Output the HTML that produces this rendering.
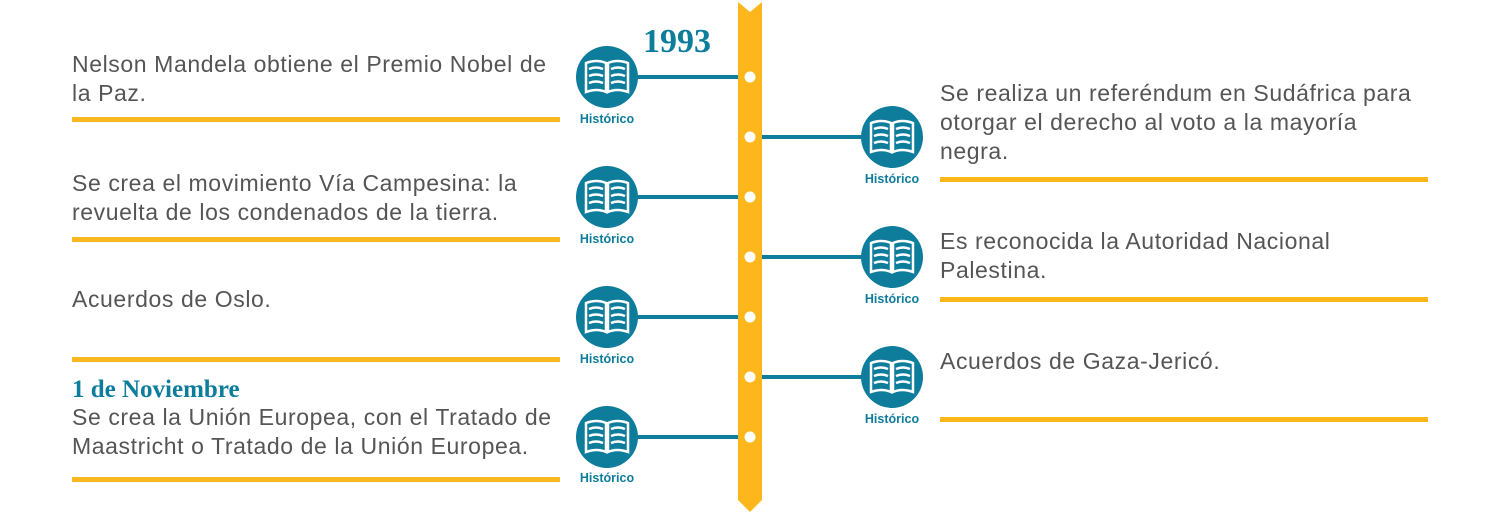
<!DOCTYPE html>
<html><head><meta charset="utf-8"><style>
body{margin:0;width:1500px;height:514px;background:#fff;position:relative;overflow:hidden;font-family:"Liberation Sans",sans-serif}
.t{position:absolute;font-size:23px;letter-spacing:0.6px;line-height:29px;color:#555;white-space:nowrap}
.u{position:absolute;height:5px;background:#fdb71c;width:488px}
.h{position:absolute;font-size:12.5px;font-weight:bold;color:#0e7c9b;width:80px;text-align:center}
.d{font-family:"Liberation Serif",serif;font-weight:bold;color:#0e7c9b}
</style></head><body>
<svg width="1500" height="514" style="position:absolute;left:0;top:0">
<defs>
<g id="bk">
<circle r="31" fill="#0e7c9b"/>
<g fill="none" stroke="#fff" stroke-width="2.5">
<path d="M-21,-14 Q-10,-18 -1,-14 L-1,15 Q-10,11 -21,15 Z"/>
<path d="M21,-14 Q10,-18 1,-14 L1,15 Q10,11 21,15 Z"/>
<path d="M-18,-8 Q-11,-11 -4,-8 M-18,-1 Q-11,-4 -4,-1 M-18,6 Q-11,3 -4,6 M4,-8 Q11,-11 18,-8 M4,-1 Q11,-4 18,-1 M4,6 Q11,3 18,6"/>
</g>
</g>
</defs>
<g stroke="#0e7c9b" stroke-width="4">
<line x1="607" y1="77" x2="750" y2="77"/><line x1="607" y1="197" x2="750" y2="197"/>
<line x1="607" y1="317" x2="750" y2="317"/><line x1="607" y1="437" x2="750" y2="437"/>
<line x1="750" y1="137" x2="892" y2="137"/><line x1="750" y1="257" x2="892" y2="257"/>
<line x1="750" y1="377" x2="892" y2="377"/>
</g>
<polygon points="738,2 750,12 762,2 762,500 750,512 738,500" fill="#fdb71c"/>
<g fill="#fff">
<circle cx="750" cy="77" r="5.5"/><circle cx="750" cy="137" r="5.5"/><circle cx="750" cy="197" r="5.5"/>
<circle cx="750" cy="257" r="5.5"/><circle cx="750" cy="317" r="5.5"/><circle cx="750" cy="377" r="5.5"/>
<circle cx="750" cy="437" r="5.5"/></g>
<use href="#bk" x="607" y="77"/><use href="#bk" x="607" y="197"/><use href="#bk" x="607" y="317"/><use href="#bk" x="607" y="437"/>
<use href="#bk" x="892" y="137"/><use href="#bk" x="892" y="257"/><use href="#bk" x="892" y="377"/>
</svg>
<div class="d" style="position:absolute;left:643px;top:24px;font-size:34px;line-height:36px">1993</div>
<div class="h" style="left:567px;top:112px">Histórico</div>
<div class="h" style="left:567px;top:232px">Histórico</div>
<div class="h" style="left:567px;top:352px">Histórico</div>
<div class="h" style="left:567px;top:471px">Histórico</div>
<div class="h" style="left:852px;top:172px">Histórico</div>
<div class="h" style="left:852px;top:292px">Histórico</div>
<div class="h" style="left:852px;top:412px">Histórico</div>
<div class="t" style="left:72px;top:50px">Nelson Mandela obtiene el Premio Nobel de<br>la Paz.</div>
<div class="u" style="left:72px;top:117px"></div>
<div class="t" style="left:72px;top:169px">Se crea el movimiento Vía Campesina: la<br>revuelta de los condenados de la tierra.</div>
<div class="u" style="left:72px;top:237px"></div>
<div class="t" style="left:72px;top:285px">Acuerdos de Oslo.</div>
<div class="u" style="left:72px;top:357px"></div>
<div class="d" style="position:absolute;left:72px;top:376px;font-size:25px;line-height:28px">1 de Noviembre</div>
<div class="t" style="left:72px;top:403px">Se crea la Unión Europea, con el Tratado de<br>Maastricht o Tratado de la Unión Europea.</div>
<div class="u" style="left:72px;top:477px"></div>
<div class="t" style="left:940px;top:79px">Se realiza un referéndum en Sudáfrica para<br>otorgar el derecho al voto a la mayoría<br>negra.</div>
<div class="u" style="left:940px;top:177px"></div>
<div class="t" style="left:940px;top:227px">Es reconocida la Autoridad Nacional<br>Palestina.</div>
<div class="u" style="left:940px;top:297px"></div>
<div class="t" style="left:940px;top:347px">Acuerdos de Gaza-Jericó.</div>
<div class="u" style="left:940px;top:417px"></div>
</body></html>
